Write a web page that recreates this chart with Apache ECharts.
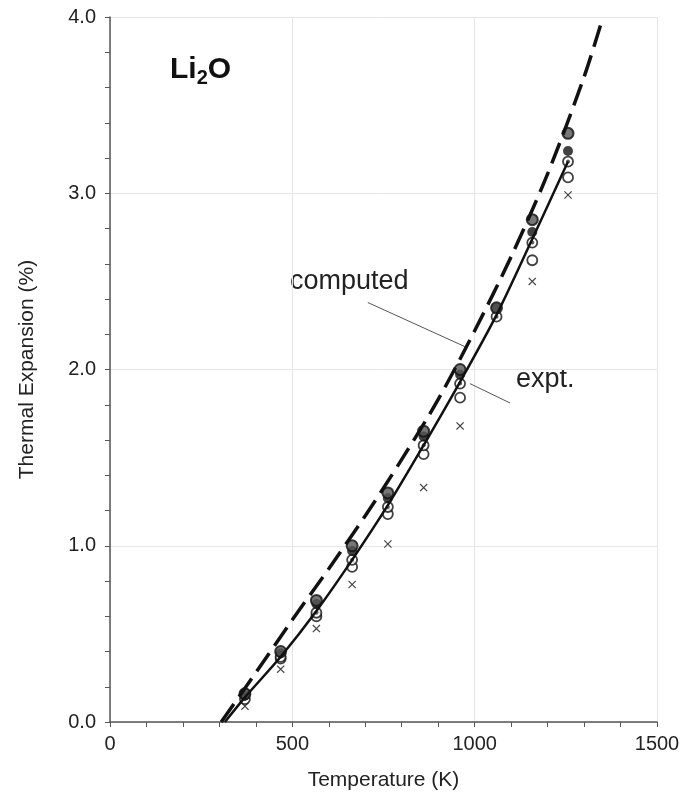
<!DOCTYPE html>
<html>
<head>
<meta charset="utf-8">
<script src="https://cdn.jsdelivr.net/npm/echarts@6/dist/echarts.min.js"></script>
<style>
  html, body { margin: 0; padding: 0; background: #fff; }
  #chart { width: 691px; height: 801px; }
</style>
</head>
<body>
<div id="chart"></div>
<script>
// measurement temperatures (K)
var temps = [370, 468, 566, 664, 762, 860, 960, 1060, 1158, 1256];
// experimental sets (%), null = no point
var setHatched = [0.16, 0.40, 0.69, 1.00, 1.30, 1.65, 2.00, 2.35, 2.85, 3.34];
var setFilled  = [0.15, 0.39, 0.67, 0.97, 1.27, 1.62, 1.97, 2.35, 2.78, 3.24];
var setDotted  = [0.13, 0.37, 0.62, 0.92, 1.22, 1.57, 1.92, 2.30, 2.72, 3.18];
var setOpen    = [0.16, 0.36, 0.60, 0.88, 1.18, 1.52, 1.84, null, 2.62, 3.09];
var setCross   = [0.09, 0.30, 0.53, 0.78, 1.01, 1.33, 1.68, null, 2.50, 2.99];
// fitted experimental curve
var exptT = [315, 370, 468, 566, 664, 762, 860, 960, 1060, 1158, 1256];
var exptV = [0, 0.14, 0.37, 0.63, 0.92, 1.23, 1.57, 1.93, 2.31, 2.74, 3.18];
// computed curve
var compT = [305, 400, 500, 600, 700, 800, 900, 1000, 1100, 1200, 1300, 1352];
var compV = [0, 0.28, 0.58, 0.87, 1.17, 1.49, 1.83, 2.22, 2.64, 3.11, 3.66, 4.0];
// axis ticks
var xTicks = [0, 500, 1000, 1500];
var yTicks = [0, 1, 2, 3, 4];

function pairs(xs, ys) {
  var out = [];
  for (var i = 0; i < xs.length; i++) {
    if (ys[i] !== null) out.push([xs[i], ys[i]]);
  }
  return out;
}

var FONT = '"Liberation Sans", Arial, sans-serif';
var crossPath = 'path://M0,1 L1,0 L5,4 L9,0 L10,1 L6,5 L10,9 L9,10 L5,6 L1,10 L0,9 L4,5 Z';

var chart = echarts.init(document.getElementById('chart'));
var option = {
  backgroundColor: '#fff',
  animation: false,
  grid: { left: 110, right: 34, top: 17, bottom: 79 },
  xAxis: {
    type: 'value',
    min: xTicks[0],
    max: xTicks[xTicks.length - 1],
    interval: 500,
    name: 'Temperature (K)',
    nameLocation: 'middle',
    nameGap: 48,
    nameTextStyle: { fontFamily: FONT, fontSize: 21, color: '#222' },
    axisLine: { lineStyle: { color: '#555', width: 1.5 } },
    axisTick: { show: true, length: 5, lineStyle: { color: '#555' } },
    minorTick: { show: true, splitNumber: 5, length: 5, lineStyle: { color: '#555' } },
    splitLine: { show: true, lineStyle: { color: '#e6e6e6', width: 1 } },
    axisLabel: {
      fontFamily: FONT, fontSize: 20, color: '#222', margin: 12,
      formatter: function (v) { return String(v); }
    }
  },
  yAxis: {
    type: 'value',
    min: yTicks[0],
    max: yTicks[yTicks.length - 1],
    interval: 1,
    name: 'Thermal Expansion (%)',
    nameLocation: 'middle',
    nameGap: 72,
    nameTextStyle: { fontFamily: FONT, fontSize: 21, color: '#222' },
    axisLine: { show: true, lineStyle: { color: '#555', width: 1.5 } },
    axisTick: { show: true, length: 5, lineStyle: { color: '#555' } },
    minorTick: { show: true, splitNumber: 5, length: 5, lineStyle: { color: '#555' } },
    splitLine: { show: true, lineStyle: { color: '#e6e6e6', width: 1 } },
    axisLabel: {
      fontFamily: FONT, fontSize: 20, color: '#222', margin: 14,
      formatter: function (v) { return v.toFixed(1); }
    }
  },
  series: [
    {
      name: 'x', type: 'scatter', data: pairs(temps, setCross),
      symbol: crossPath, symbolSize: 8, itemStyle: { color: '#111' }
    },
    {
      name: 'open', type: 'scatter', data: pairs(temps, setOpen),
      symbol: 'circle', symbolSize: 10,
      itemStyle: { color: '#fff', borderColor: '#111', borderWidth: 1.8 }
    },
    {
      name: 'dotted', type: 'scatter', data: pairs(temps, setDotted),
      symbol: 'circle', symbolSize: 10,
      itemStyle: { color: '#fff', borderColor: '#111', borderWidth: 1.8 }
    },
    {
      name: 'dotted-centre', type: 'scatter', data: pairs(temps, setDotted),
      symbol: 'circle', symbolSize: 4, itemStyle: { color: '#333' }
    },
    {
      name: 'filled', type: 'scatter', data: pairs(temps, setFilled),
      symbol: 'circle', symbolSize: 10, itemStyle: { color: '#111' }
    },
    {
      name: 'hatched', type: 'scatter', data: pairs(temps, setHatched),
      symbol: 'circle', symbolSize: 11,
      itemStyle: { color: '#555', borderColor: '#111', borderWidth: 2 }
    },
    {
      name: 'expt.', type: 'line', data: pairs(exptT, exptV),
      smooth: 0.3, symbol: 'none', z: 5,
      lineStyle: { color: '#111', width: 2.5 }
    },
    {
      name: 'computed', type: 'line', data: pairs(compT, compV),
      smooth: 0.3, symbol: 'none', z: 4,
      lineStyle: { color: '#111', width: 3.5, type: [22, 9] }
    },
    {
      // leader lines for the curve labels
      name: 'leader-c', type: 'line', data: [[707, 2.38], [973, 2.13]],
      symbol: 'none', lineStyle: { color: '#555', width: 1 }
    },
    {
      name: 'leader-e', type: 'line', data: [[987, 1.92], [1097, 1.81]],
      symbol: 'none', lineStyle: { color: '#555', width: 1 }
    }
  ],
  graphic: [
    {
      type: 'text', left: 170, top: 52,
      style: {
        text: '{m|Li}{s|2}{m|O}',
        rich: {
          m: { fontFamily: FONT, fontSize: 30, fontWeight: 'bold', fill: '#111', lineHeight: 34 },
          s: { fontFamily: FONT, fontSize: 20, fontWeight: 'bold', fill: '#111', lineHeight: 34, padding: [16, 0, 0, 0] }
        }
      }
    },
    {
      type: 'text', left: 290, top: 268,
      style: { text: 'computed', fontFamily: FONT, fontSize: 27, fill: '#222' }
    },
    {
      type: 'text', left: 516, top: 366,
      style: { text: 'expt.', fontFamily: FONT, fontSize: 27, fill: '#222' }
    }
  ]
};
chart.setOption(option);
</script>
</body>
</html>
